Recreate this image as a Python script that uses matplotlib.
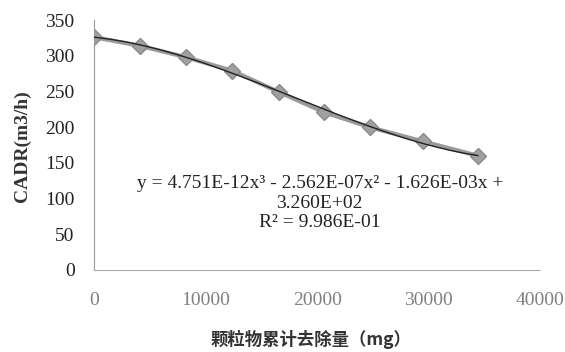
import numpy as np
import matplotlib
matplotlib.use('Agg')
from matplotlib import pyplot as plt

removed_mg = [0, 4100, 8250, 12400, 16600, 20600, 24700, 29500, 34400]
cadr = [326, 314, 298, 279, 249, 221, 200, 180, 160]

# cubic trendline coefficients (as printed on the chart)
coef = [4.751e-12, -2.562e-07, -1.626e-03, 3.260e+02]
eq_lines = ['y = 4.751E-12x³ - 2.562E-07x² - 1.626E-03x +',
            '3.260E+02',
            'R² = 9.986E-01']

plt.rcParams['font.family'] = ['Liberation Serif', 'DejaVu Serif']

fig = plt.figure(figsize=(5.65, 3.52), dpi=100)
ax = fig.add_axes([0.1664, 0.233, 0.790, 0.710])

ax.plot(removed_mg, cadr, color='#9a9a9a', lw=3, marker='D', markersize=8,
        markerfacecolor='#a0a0a0', markeredgecolor='#8a8a8a', zorder=2)
xs = np.linspace(removed_mg[0], removed_mg[-1], 200)
ax.plot(xs, np.polyval(coef, xs), color='#222222', lw=1, zorder=3)

ax.set_xlim(0, 40000)
ax.set_ylim(0, 350)
ax.set_xticks([0, 10000, 20000, 30000, 40000])
ax.set_yticks(range(0, 351, 50))
ax.tick_params(length=0, labelsize=14)
ax.tick_params(axis='x', labelcolor='#808080', pad=16)
ax.tick_params(axis='y', labelcolor='#222222', pad=14)
for lbl in ax.get_xticklabels() + ax.get_yticklabels():
    lbl.set_fontfamily('Liberation Serif')

for s in ['top', 'right']:
    ax.spines[s].set_visible(False)
ax.spines['left'].set_color('#999999')
ax.spines['left'].set_linewidth(0.8)
ax.spines['bottom'].set_color('#aaaaaa')
ax.spines['bottom'].set_linestyle((0, (2, 1)))
ax.spines['bottom'].set_linewidth(0.8)

for ty, line in zip([0.480, 0.423, 0.369], eq_lines):
    fig.text(0.566, ty, line, ha='center', va='center', fontsize=14, color='#222222')

fig.text(0.04, 0.585, 'CADR(m3/h)', rotation=90, ha='center', va='center',
         fontsize=14, fontweight='bold', color='#333333')
fig.text(0.55, 0.035, '颗粒物累计去除量（mg）', ha='center', va='center',
         fontsize=12.5, fontweight='bold', color='#333333',
         family=['Noto Sans CJK SC', 'Liberation Serif'])

fig.savefig('out.png', dpi=100)
